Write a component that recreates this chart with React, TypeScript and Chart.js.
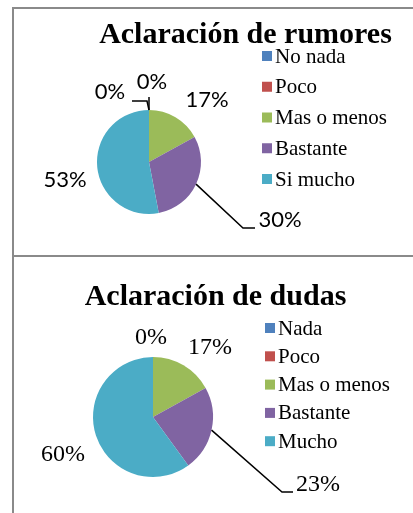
import React, { useEffect, useRef } from "react";
import { Chart, registerables } from "chart.js";

Chart.register(...registerables);

// ---------- data ----------
const sliceColors = ["#4F81BD", "#C0504D", "#9BBB59", "#8064A2", "#4BACC6"];

const rumoresTitle = "Aclaración de rumores";
const rumoresCategories = ["No nada", "Poco", "Mas o menos", "Bastante", "Si mucho"];
const rumoresValues = [0, 0, 17, 30, 53];

const dudasTitle = "Aclaración de dudas";
const dudasCategories = ["Nada", "Poco", "Mas o menos", "Bastante", "Mucho"];
const dudasValues = [0, 0, 17, 23, 60];

// ---------- layout / style ----------
type Spec = {
  title: string;
  titleX: number;
  titleY: number;
  legendX: number;
  legendY: number;
  legendStep: number;
  labelFont: string;
  // label offsets relative to pie centre (null = hidden)
  labelPos: ([number, number] | null)[];
  // leader line points relative to pie centre, starting from slice edge
  leaders: ([number, number][] | null)[];
  padding: { left: number; right: number; top: number; bottom: number };
  width: number;
  height: number;
  top: number;
};

const rumoresSpec: Spec = {
  title: rumoresTitle,
  titleX: 245.5,
  titleY: 43,
  legendX: 262,
  legendY: 56,
  legendStep: 30.75,
  labelFont: '22px Lato',
  labelPos: [
    [3, -80],
    [-39, -70],
    [58, -62],
    [131, 58],
    [-84, 18],
  ],
  leaders: [
    [[0, -65]],
    [[-2, -61], [-17, -61]],
    null,
    [[94, 66], [106, 66]],
    null,
  ],
  padding: { left: 97, right: 212, top: 110, bottom: 42 },
  width: 413,
  height: 256,
  top: 0,
};

const dudasSpec: Spec = {
  title: dudasTitle,
  titleX: 215.5,
  titleY: 49,
  legendX: 265,
  legendY: 72,
  legendStep: 28.3,
  labelFont: '24px "Liberation Serif"',
  labelPos: [
    [-2, -79],
    null,
    [57, -69],
    [165, 68],
    [-90, 38],
  ],
  leaders: [null, null, null, [[129, 75], [140, 75]], null],
  padding: { left: 93, right: 200, top: 101, bottom: 36 },
  width: 413,
  height: 257,
  top: 256,
};

function makeOverlay(spec: Spec, categories: string[], values: number[]) {
  return {
    id: "overlay",
    afterDraw(chart: any) {
      const ctx: CanvasRenderingContext2D = chart.ctx;
      const meta = chart.getDatasetMeta(0);
      ctx.save();
      // title
      ctx.fillStyle = "#000";
      ctx.font = 'bold 30px "Liberation Serif"';
      ctx.textAlign = "center";
      ctx.textBaseline = "alphabetic";
      ctx.fillText(spec.title, spec.titleX, spec.titleY);
      // legend
      ctx.font = '21px "Liberation Serif"';
      ctx.textAlign = "left";
      ctx.textBaseline = "middle";
      categories.forEach((lab, i) => {
        const y = spec.legendY + i * spec.legendStep;
        ctx.fillStyle = sliceColors[i];
        ctx.fillRect(spec.legendX, y - 5, 10, 10);
        ctx.fillStyle = "#000";
        ctx.fillText(lab, spec.legendX + 13, y + 1);
      });
      // data labels + leaders
      const total = values.reduce((a, b) => a + b, 0);
      ctx.font = spec.labelFont;
      ctx.textAlign = "center";
      ctx.textBaseline = "middle";
      ctx.strokeStyle = "#000";
      ctx.lineWidth = 1.5;
      meta.data.forEach((arc: any, i: number) => {
        const p = arc.getProps(["x", "y", "startAngle", "endAngle", "outerRadius"], true);
        const mid = (p.startAngle + p.endAngle) / 2;
        const ex = p.x + p.outerRadius * Math.cos(mid);
        const ey = p.y + p.outerRadius * Math.sin(mid);
        const leader = spec.leaders[i];
        if (leader) {
          ctx.beginPath();
          ctx.moveTo(ex, ey);
          leader.forEach(([dx, dy]) => ctx.lineTo(p.x + dx, p.y + dy));
          ctx.stroke();
        }
        const pos = spec.labelPos[i];
        if (pos) {
          const pct = Math.round((values[i] / total) * 100) + "%";
          ctx.fillText(pct, p.x + pos[0], p.y + pos[1]);
        }
      });
      ctx.restore();
    },
  };
}

function PieChart({ spec, categories, values }: { spec: Spec; categories: string[]; values: number[] }) {
  const ref = useRef<HTMLCanvasElement | null>(null);
  useEffect(() => {
    if (!ref.current) return;
    const chart = new Chart(ref.current, {
      type: "pie",
      data: {
        labels: categories,
        datasets: [
          {
            data: values,
            backgroundColor: sliceColors,
            borderWidth: 0,
          },
        ],
      },
      options: {
        responsive: false,
        animation: false,
        events: [],
        layout: { padding: spec.padding },
        plugins: {
          legend: { display: false },
          title: { display: false },
          tooltip: { enabled: false },
        },
      },
      plugins: [makeOverlay(spec, categories, values)],
    });
    return () => chart.destroy();
  }, []);
  return (
    <canvas
      ref={ref}
      width={spec.width}
      height={spec.height}
      style={{ position: "absolute", left: 0, top: spec.top, width: spec.width, height: spec.height }}
    />
  );
}

export default function App() {
  const line = "#8a8a8a";
  return (
    <div style={{ position: "absolute", left: 0, top: 0, width: 413, height: 513, background: "#fff", overflow: "hidden" }}>
      <div style={{ position: "absolute", left: 12, top: 7, width: 2, height: 506, background: line }} />
      <div style={{ position: "absolute", left: 12, top: 7, width: 401, height: 2, background: line }} />
      <div style={{ position: "absolute", left: 12, top: 255, width: 401, height: 2, background: line }} />
      <PieChart spec={rumoresSpec} categories={rumoresCategories} values={rumoresValues} />
      <PieChart spec={dudasSpec} categories={dudasCategories} values={dudasValues} />
    </div>
  );
}
